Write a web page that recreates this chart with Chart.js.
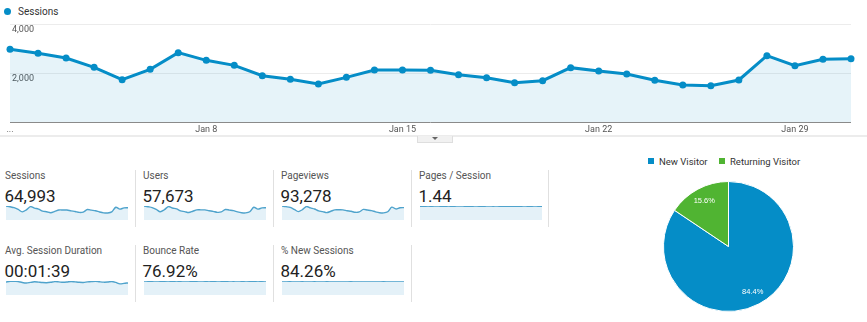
<!DOCTYPE html>
<html>
<head>
<meta charset="utf-8">
<script src="https://cdn.jsdelivr.net/npm/chart.js@4"></script>
<style>
  html, body { margin: 0; padding: 0; background: #fff; }
  body { width: 867px; height: 322px; position: relative; overflow: hidden;
         font-family: Roboto, "Noto Sans", Arial, sans-serif; }
  .abs { position: absolute; }
  #legend { left: 4px; top: 5px; height: 12px; font-size: 10px; color: #333;
            display: flex; align-items: center; white-space: nowrap; }
  #legend .dot { width: 7px; height: 7px; border-radius: 50%; background: #058dc7; margin-right: 7px; }
  #band { left: 0; top: 135px; width: 867px; height: 2px; background: #ececec; }
  #tab { left: 417px; top: 136px; width: 34px; height: 6px; background: #f1f1f1;
         border: 1px solid #dedede; border-top: none; }
  #tab:after { content: ""; position: absolute; left: 14px; top: 1px;
               border-left: 3px solid transparent; border-right: 3px solid transparent;
               border-top: 3px solid #666; }
  .tlabel { font-size: 10px; color: #555; white-space: nowrap; line-height: 12px; }
  .tvalue { font-size: 17px; color: #222; white-space: nowrap; line-height: 20px; }
  .sep { width: 1px; background: #e0e0e0; }
  .plegend { top: 155px; height: 12px; font-size: 9.5px; color: #333; display: flex;
             align-items: center; white-space: nowrap; }
  .plegend .sq { width: 6px; height: 6px; margin-right: 5px; }
</style>
</head>
<body>

<div id="legend" class="abs"><span class="dot"></span><span>Sessions</span></div>
<canvas id="main" class="abs" style="left:0;top:0" width="867" height="140"></canvas>
<div id="band" class="abs"></div>
<div id="tab" class="abs"></div>

<div id="tiles"></div>

<div class="abs plegend" style="left:648px"><span class="sq" style="background:#058dc7"></span><span>New Visitor</span></div>
<div class="abs plegend" style="left:719px"><span class="sq" style="background:#50b432"></span><span>Returning Visitor</span></div>
<canvas id="pie" class="abs" style="left:662px;top:180px" width="133" height="133"></canvas>

<script>
// Days of the month shown on the sessions timeline
const days = ['Jan 1','Jan 2','Jan 3','Jan 4','Jan 5','Jan 6','Jan 7','Jan 8','Jan 9','Jan 10',
  'Jan 11','Jan 12','Jan 13','Jan 14','Jan 15','Jan 16','Jan 17','Jan 18','Jan 19','Jan 20',
  'Jan 21','Jan 22','Jan 23','Jan 24','Jan 25','Jan 26','Jan 27','Jan 28','Jan 29','Jan 30','Jan 31'];

// Labels printed under the timeline and the day index they sit on
const axisTicks = ['...', 'Jan 8', 'Jan 15', 'Jan 22', 'Jan 29'];
const axisTickIdx = [0, 7, 14, 21, 28];

// Daily sessions
const sessions = [2967, 2804, 2612, 2231, 1728, 2150, 2830, 2517, 2313, 1891,
  1742, 1551, 1823, 2122, 2122, 2109, 1932, 1810, 1605, 1687,
  2218, 2082, 1959, 1701, 1510, 1483, 1714, 2707, 2299, 2558, 2585];

// Daily values behind the small trend lines
const users = [2610, 2480, 2320, 1990, 1540, 1910, 2500, 2230, 2060, 1690,
  1560, 1390, 1630, 1890, 1890, 1880, 1720, 1610, 1430, 1500,
  1960, 1850, 1740, 1510, 1350, 1320, 1530, 2380, 2030, 2250, 2280];
const pageviews = [4210, 4010, 3780, 3200, 2520, 3090, 4050, 3640, 3310, 2740,
  2530, 2230, 2620, 3060, 3070, 3040, 2780, 2620, 2310, 2440,
  3180, 3000, 2830, 2450, 2180, 2130, 2480, 3850, 3330, 3680, 3720];
const pagesPerSession = [1.42, 1.43, 1.45, 1.43, 1.46, 1.44, 1.43, 1.45, 1.43, 1.45,
  1.45, 1.44, 1.44, 1.44, 1.45, 1.43, 1.44, 1.45, 1.44, 1.45,
  1.43, 1.44, 1.44, 1.44, 1.44, 1.44, 1.45, 1.42, 1.45, 1.44, 1.44];
const avgDuration = [100, 106, 108, 104, 96, 92, 97, 102, 99, 96,
  95, 98, 103, 101, 98, 100, 104, 101, 98, 97,
  101, 104, 106, 102, 99, 100, 104, 97, 86, 90, 93];
const bounceRate = [77.5, 76.8, 76.2, 77.9, 76.1, 76.9, 77.2, 76.5, 77.0, 76.4,
  77.8, 77.1, 76.3, 76.8, 77.4, 76.6, 77.0, 76.2, 77.5, 76.9,
  76.4, 77.3, 76.8, 77.6, 76.5, 77.1, 76.9, 76.2, 77.0, 76.7, 77.2];
const newSessionsPct = [84.9, 84.1, 83.8, 85.0, 84.2, 83.6, 84.7, 84.4, 83.9, 84.8,
  84.5, 83.7, 84.1, 84.6, 84.0, 84.9, 84.2, 83.8, 84.5, 84.3,
  84.0, 84.6, 84.1, 84.8, 84.3, 83.9, 84.4, 84.7, 84.0, 84.5, 84.2];

// Summary metrics
const metricNames = ['Sessions', 'Users', 'Pageviews', 'Pages / Session',
  'Avg. Session Duration', 'Bounce Rate', '% New Sessions'];
const metricTotals = ['64,993', '57,673', '93,278', '1.44', '00:01:39', '76.92%', '84.26%'];
const metricSeries = [sessions, users, pageviews, pagesPerSession, avgDuration, bounceRate, newSessionsPct];

// Visitor split
const visitorTypes = ['New Visitor', 'Returning Visitor'];
const visitorShare = [84.4, 15.6];

const BLUE = '#058dc7';
const GREEN = '#50b432';
const FONT = 'Roboto, "Noto Sans", Arial, sans-serif';

// ---- Sessions timeline ----
new Chart(document.getElementById('main'), {
  type: 'line',
  data: {
    labels: days,
    datasets: [{
      label: 'Sessions',
      data: sessions,
      borderColor: BLUE,
      backgroundColor: 'rgba(5,141,199,0.1)',
      fill: 'origin',
      borderWidth: 3,
      pointRadius: 3.5,
      pointHoverRadius: 3.5,
      pointBackgroundColor: BLUE,
      pointBorderWidth: 0,
      tension: 0,
      clip: 6
    }]
  },
  options: {
    responsive: false,
    animation: false,
    devicePixelRatio: 1,
    layout: { padding: { left: 10, right: 16, top: 24, bottom: 0 } },
    plugins: { legend: { display: false }, tooltip: { enabled: false } },
    scales: {
      x: {
        grid: { display: false, drawTicks: false },
        border: { display: false },
        ticks: {
          autoSkip: false, maxRotation: 0, padding: 2, color: '#555',
          font: { size: 9, family: FONT },
          callback: (v, i) => { const k = axisTickIdx.indexOf(i); return k < 0 ? '' : axisTicks[k]; }
        },
        afterFit: s => { s.height = 18; }
      },
      y: {
        min: 0, max: 4000,
        grid: { drawTicks: false, color: c => c.tick.value === 0 ? '#8a8a8a' : '#ececec' },
        border: { display: false },
        ticks: {
          stepSize: 2000, mirror: true, padding: 2, labelOffset: 6, color: '#555',
          font: { size: 9, family: FONT },
          callback: v => v === 0 ? '' : v.toLocaleString('en-US')
        },
        afterFit: s => { s.width = 0; }
      }
    }
  }
});

// ---- Metric tiles with trend lines ----
const tileX = [4, 142, 280, 418];
const tiles = document.getElementById('tiles');
metricNames.forEach((name, i) => {
  const row = i < 4 ? 0 : 1;
  const col = i < 4 ? i : i - 4;
  const x = tileX[col];
  const top = row === 0 ? 170 : 245;
  const lab = document.createElement('div');
  lab.className = 'abs tlabel';
  lab.style.left = (x + 1) + 'px';
  lab.style.top = top + 'px';
  lab.textContent = name;
  tiles.appendChild(lab);
  const val = document.createElement('div');
  val.className = 'abs tvalue';
  val.style.left = (x + 0.5) + 'px';
  val.style.top = (top + 16) + 'px';
  val.textContent = metricTotals[i];
  tiles.appendChild(val);
  const cv = document.createElement('canvas');
  cv.className = 'abs';
  cv.width = 122; cv.height = 15;
  cv.style.left = (x + 2) + 'px';
  cv.style.top = (top + 35) + 'px';
  tiles.appendChild(cv);
  const series = metricSeries[i];
  new Chart(cv, {
    type: 'line',
    data: { labels: days, datasets: [{
      data: series, borderColor: '#4fa3cc', backgroundColor: '#e4f1f8', fill: 'origin',
      borderWidth: 1.4, pointRadius: 0, tension: 0.3
    }] },
    options: {
      responsive: false, animation: false, devicePixelRatio: 1,
      layout: { padding: { top: 1, bottom: 0, left: 0, right: 0 } },
      plugins: { legend: { display: false }, tooltip: { enabled: false } },
      scales: {
        x: { display: false },
        y: { display: false, min: 0, max: Math.max(...series) }
      }
    }
  });
});

// Dividers between tiles
[[135, 170], [273, 170], [411, 170], [548, 170], [135, 245], [273, 245], [411, 245]].forEach(([x, y]) => {
  const d = document.createElement('div');
  d.className = 'abs sep';
  d.style.left = x + 'px';
  d.style.top = y + 'px';
  d.style.height = '57px';
  tiles.appendChild(d);
});

// ---- Visitor split pie ----
const sliceLabels = {
  id: 'sliceLabels',
  afterDatasetsDraw(chart) {
    const ctx = chart.ctx;
    const meta = chart.getDatasetMeta(0);
    const vals = chart.data.datasets[0].data;
    const total = vals.reduce((a, b) => a + b, 0);
    ctx.save();
    ctx.fillStyle = '#fff';
    ctx.font = '7.5px Arial, sans-serif';
    ctx.textAlign = 'center';
    ctx.textBaseline = 'middle';
    meta.data.forEach((arc, i) => {
      const p = arc.getProps(['x', 'y', 'startAngle', 'endAngle', 'outerRadius'], true);
      const a = (p.startAngle + p.endAngle) / 2;
      const r = p.outerRadius * 0.79;
      ctx.fillText((vals[i] / total * 100).toFixed(1) + '%', p.x + Math.cos(a) * r, p.y + Math.sin(a) * r);
    });
    ctx.restore();
  }
};

new Chart(document.getElementById('pie'), {
  type: 'pie',
  data: { labels: visitorTypes, datasets: [{
    data: visitorShare, backgroundColor: [BLUE, GREEN], borderColor: '#fff', borderWidth: 1
  }] },
  options: {
    responsive: false, animation: false, devicePixelRatio: 1,
    layout: { padding: 1 },
    plugins: { legend: { display: false }, tooltip: { enabled: false } }
  },
  plugins: [sliceLabels]
});
</script>
</body>
</html>
